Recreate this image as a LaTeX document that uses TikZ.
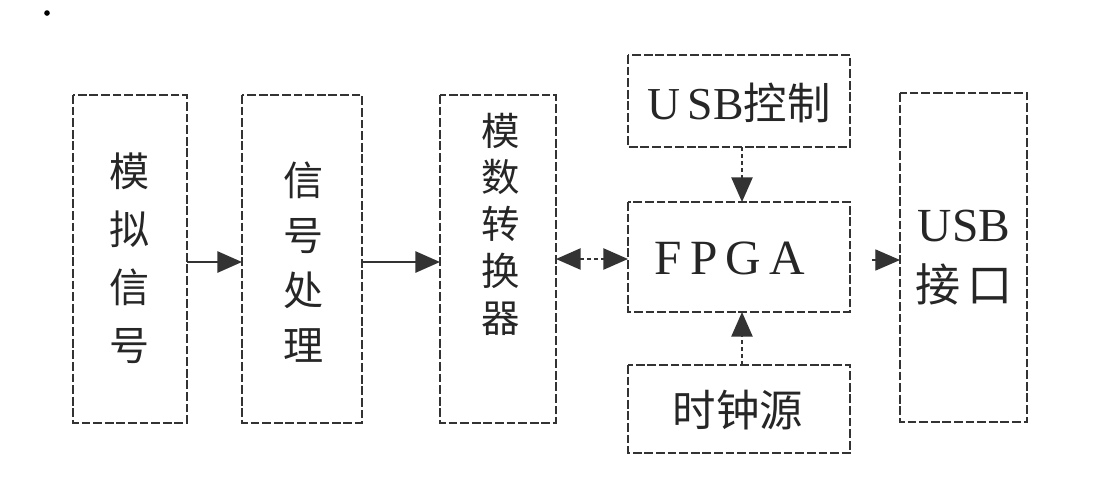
\documentclass[tikz,border=0pt]{standalone}
\usepackage{fontspec}
\setmainfont{Liberation Serif}
\newfontfamily\cjk{Noto Sans CJK SC}[Scale=0.95]
\usetikzlibrary{arrows.meta}
\begin{document}
\begin{tikzpicture}[x=0.01cm,y=-0.01cm,
  blk/.style={draw=black!80,line width=0.8pt,dash pattern=on 2.5pt off 0.8pt,inner sep=0pt},
  conn/.style={draw=black!80,line width=0.7pt,-{Triangle[length=7pt,width=6pt]}},
  dconn/.style={draw=black!80,line width=0.6pt,dash pattern=on 1pt off 1pt,-{Triangle[length=7pt,width=6pt]}},
  lbl/.style={font=\cjk\fontsize{12}{16.5}\selectfont,align=center,text=black!85}]
\useasboundingbox (0,0) rectangle (1099,490);
\fill[black] (47,13) circle (0.8pt);
\draw[blk] (73,95) rectangle (187,423);
\node[lbl] (ta) at (130,258) {模\\拟\\信\\号};
\draw[blk] (242,95) rectangle (362,423);
\node[lbl,font=\cjk\fontsize{12}{15.6}\selectfont] (tb) at (304,262) {信\\号\\处\\理};
\draw[blk] (440,95) rectangle (556,423);
\node[lbl,font=\cjk\fontsize{11.5}{13.3}\selectfont] (tc) at (501,224) {模\\数\\转\\换\\器};
\draw[blk] (628,55) rectangle (850,147);
\node[font=\fontsize{13}{16}\selectfont,text=black!85] (td) at (739,103) {U\,SB{\cjk 控制}};
\draw[blk] (628,202) rectangle (850,312);
\node[font=\fontsize{14}{17}\selectfont,text=black!85] (te) at (730,258) {F\,P\,G\,A};
\draw[blk] (628,365) rectangle (850,453);
\node[font=\cjk\fontsize{13}{16}\selectfont,text=black!85] (tf) at (738,410) {时钟源};
\draw[blk] (900,93) rectangle (1027,422);
\node[font=\fontsize{13.5}{17}\selectfont,align=center,text=black!85] (tg) at (964,258) {USB\\{\cjk 接\,口}};
\coordinate (a1) at (187,262); \coordinate (b1) at (242,262);
\coordinate (b2) at (362,262); \coordinate (c2) at (440,262);
\coordinate (c3) at (556,259); \coordinate (e3) at (628,259);
\coordinate (d4) at (742,147); \coordinate (e4) at (742,202);
\coordinate (f5) at (742,365); \coordinate (e5) at (742,312);
\coordinate (e6) at (872,260); \coordinate (g6) at (900,260);
\draw[conn] (a1) -- (b1);
\draw[conn] (b2) -- (c2);
\draw[dconn,{Triangle[length=7pt,width=6pt]}-{Triangle[length=7pt,width=6pt]}] (c3) -- (e3);
\draw[dconn] (d4) -- (e4);
\draw[dconn] (f5) -- (e5);
\draw[conn,line width=0.3pt] (e6) -- (g6);
\end{tikzpicture}
\end{document}
